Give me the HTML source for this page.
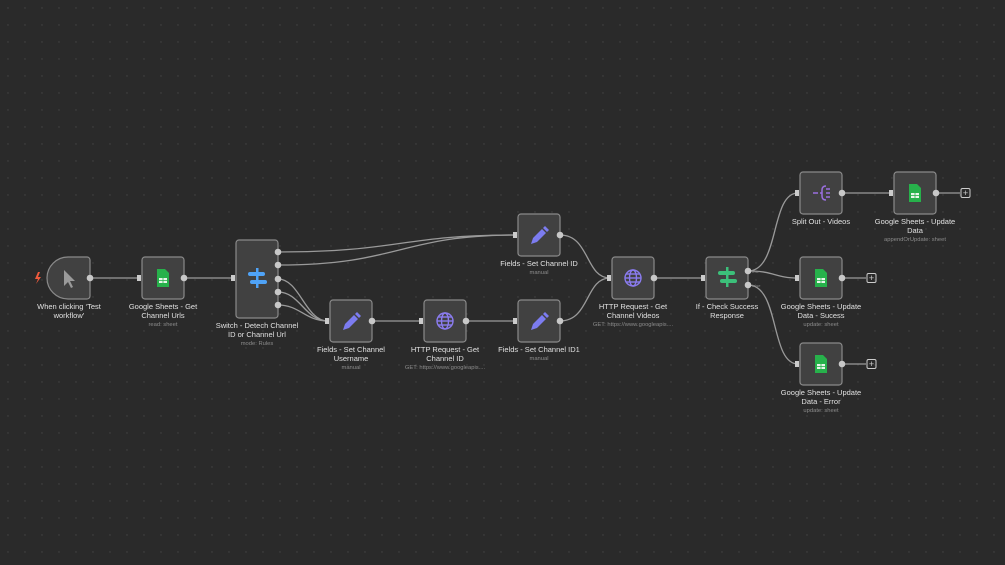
<!DOCTYPE html>
<html><head><meta charset="utf-8"><style>
html,body{margin:0;padding:0;background:#2a2a2a;}
svg{display:block;font-family:"Liberation Sans",sans-serif;}
.n{fill:#414141;stroke:#8a8a8a;stroke-width:1.2;}
.e{fill:none;stroke:#9a9a9a;stroke-width:1.3;}
.d{fill:#c8c8c8;}
.t{fill:#e0e0e0;font-size:7.5px;text-anchor:middle;}
.s{fill:#8c8c8c;font-size:5.8px;text-anchor:middle;}
</style></head><body>
<svg width="1005" height="565" viewBox="0 0 1005 565">
<defs>
<pattern id="dots" width="17" height="17" patternUnits="userSpaceOnUse"><circle cx="8" cy="8" r="0.7" fill="#444"/></pattern>
<g id="sheet"><path d="M-6,-9 h8 l4,4 v14 h-12 z" fill="#27b14b"/><rect x="-4" y="0" width="8" height="5" fill="#e8f5ea"/><line x1="0" y1="0" x2="0" y2="5" stroke="#27b14b" stroke-width="0.8"/><line x1="-4" y1="2.5" x2="4" y2="2.5" stroke="#27b14b" stroke-width="0.8"/></g>
<g id="pencil"><path d="M-8,8 l2,-6 l9,-9 l4,4 l-9,9 z" fill="#7c7cf0"/><path d="M4,-8 l2,-2 l4,4 l-2,2 z" fill="#7c7cf0"/></g>
<g id="globe" fill="none" stroke="#8b7cf0" stroke-width="1.4"><circle r="8"/><ellipse rx="3.5" ry="8"/><line x1="-8" y1="0" x2="8" y2="0"/><line x1="-7" y1="-4" x2="7" y2="-4"/><line x1="-7" y1="4" x2="7" y2="4"/></g>
<marker id="a" viewBox="0 0 6 6" refX="5" refY="3" markerWidth="6" markerHeight="6" orient="auto"><path d="M0,0 L6,3 L0,6 z" fill="#bbb"/></marker>
</defs>
<rect width="1005" height="565" fill="#2a2a2a"/>
<rect width="1005" height="565" fill="url(#dots)"/>

<!-- edges -->
<g class="e">
<path d="M90,278 H140"/>
<path d="M184,278 H234"/>
<path d="M278,252 C400,252 400,235 516,235"/>
<path d="M278,265 C400,265 400,235 516,235"/>
<path d="M278,279 C300,279 305,321 328,321"/>
<path d="M278,292 C300,292 305,321 328,321"/>
<path d="M278,305 C300,305 305,321 328,321"/>
<path d="M372,321 H422"/>
<path d="M466,321 H516"/>
<path d="M560,235 C590,235 585,278 610,278"/>
<path d="M560,321 C590,321 585,278 610,278"/>
<path d="M654,278 H704"/>
<path d="M748,271 C780,271 770,193 798,193"/>
<path d="M748,271 C775,271 775,278 798,278"/>
<path d="M748,285 C780,285 770,364 798,364"/>
<path d="M842,193 H892"/>
<path d="M936,193 H960"/>
<path d="M842,278 H866"/>
<path d="M842,364 H866"/>
</g>
<g fill="#ccc">
<rect x="137" y="275" width="4" height="6"/><rect x="231" y="275" width="4" height="6"/><rect x="325" y="318" width="4" height="6"/><rect x="419" y="318" width="4" height="6"/><rect x="513" y="318" width="4" height="6"/><rect x="513" y="232" width="4" height="6"/><rect x="607" y="275" width="4" height="6"/><rect x="701" y="275" width="4" height="6"/><rect x="795" y="190" width="4" height="6"/><rect x="889" y="190" width="4" height="6"/><rect x="795" y="275" width="4" height="6"/><rect x="795" y="361" width="4" height="6"/>
</g>
<g fill="none" stroke="#ccc" stroke-width="1"><rect x="961" y="188.5" width="9" height="9" rx="1.5"/><rect x="867" y="273.5" width="9" height="9" rx="1.5"/><rect x="867" y="359.5" width="9" height="9" rx="1.5"/></g>
<g fill="#ccc" font-size="9" text-anchor="middle" font-family="Liberation Sans"><text x="965.5" y="196">+</text><text x="871.5" y="281">+</text><text x="871.5" y="367">+</text></g>

<!-- nodes -->
<path class="n" d="M68,257 h19 a3,3 0 0 1 3,3 v36 a3,3 0 0 1 -3,3 h-19 a21,21 0 0 1 0,-42 z"/>
<rect class="n" x="142" y="257" width="42" height="42" rx="3"/>
<rect class="n" x="236" y="240" width="42" height="78" rx="3"/>
<rect class="n" x="330" y="300" width="42" height="42" rx="3"/>
<rect class="n" x="424" y="300" width="42" height="42" rx="3"/>
<rect class="n" x="518" y="300" width="42" height="42" rx="3"/>
<rect class="n" x="518" y="214" width="42" height="42" rx="3"/>
<rect class="n" x="612" y="257" width="42" height="42" rx="3"/>
<rect class="n" x="706" y="257" width="42" height="42" rx="3"/>
<rect class="n" x="800" y="172" width="42" height="42" rx="3"/>
<rect class="n" x="894" y="172" width="42" height="42" rx="3"/>
<rect class="n" x="800" y="257" width="42" height="42" rx="3"/>
<rect class="n" x="800" y="343" width="42" height="42" rx="3"/>

<!-- icons -->
<path d="M64,270 l0,16 l4,-4 l3,6 l2,-1 l-3,-6 l5,0 z" fill="#9a9a9a"/>
<path d="M38,272 l-3,7 h3 l-2,5 l5,-7 h-3 l2,-5 z" fill="#ef5a3c"/>
<use href="#sheet" x="163" y="278"/>
<use href="#sheet" x="915" y="193"/>
<use href="#sheet" x="821" y="278"/>
<use href="#sheet" x="821" y="364"/>
<g fill="#4fa3f7"><rect x="248" y="272" width="17" height="4" rx="2"/><rect x="250" y="280" width="17" height="4" rx="2"/><rect x="256" y="268" width="2.5" height="20"/></g>
<g fill="#3cc07a"><rect x="718" y="271" width="17" height="4" rx="2"/><rect x="720" y="279" width="17" height="4" rx="2"/><rect x="726" y="267" width="2.5" height="20"/></g>
<use href="#pencil" x="351" y="322"/>
<use href="#pencil" x="539" y="322"/>
<use href="#pencil" x="539" y="236"/>
<use href="#globe" x="445" y="321"/>
<use href="#globe" x="633" y="278"/>
<g fill="none" stroke="#9b6fe0" stroke-width="1.5"><path d="M813,193 h5"/><path d="M826,186 q-4,0 -4,4 v6 q0,4 4,4"/><path d="M822,193 h-2"/><path d="M826,189 h4 M826,193 h4 M826,197 h4"/></g>

<!-- port dots -->
<g class="d">
<circle cx="90" cy="278" r="3.3"/><circle cx="184" cy="278" r="3.3"/>
<circle cx="278" cy="252" r="3.3"/><circle cx="278" cy="265" r="3.3"/><circle cx="278" cy="279" r="3.3"/><circle cx="278" cy="292" r="3.3"/><circle cx="278" cy="305" r="3.3"/>
<circle cx="372" cy="321" r="3.3"/><circle cx="466" cy="321" r="3.3"/><circle cx="560" cy="321" r="3.3"/><circle cx="560" cy="235" r="3.3"/>
<circle cx="654" cy="278" r="3.3"/><circle cx="748" cy="271" r="3.3"/><circle cx="748" cy="285" r="3.3"/>
<circle cx="842" cy="193" r="3.3"/><circle cx="936" cy="193" r="3.3"/><circle cx="842" cy="278" r="3.3"/><circle cx="842" cy="364" r="3.3"/>
</g>
<g fill="#888" font-size="4px"><text x="752" y="273">true</text><text x="752" y="287">false</text></g>

<!-- labels -->
<text class="t" x="69" y="309">When clicking ‘Test</text><text class="t" x="69" y="318">workflow’</text>
<text class="t" x="163" y="309">Google Sheets - Get</text><text class="t" x="163" y="318">Channel Urls</text><text class="s" x="163" y="326">read: sheet</text>
<text class="t" x="257" y="328">Switch - Detech Channel</text><text class="t" x="257" y="337">ID or Channel Url</text><text class="s" x="257" y="345">mode: Rules</text>
<text class="t" x="351" y="352">Fields - Set Channel</text><text class="t" x="351" y="361">Username</text><text class="s" x="351" y="369">manual</text>
<text class="t" x="445" y="352">HTTP Request - Get</text><text class="t" x="445" y="361">Channel ID</text><text class="s" x="445" y="369">GET: https://www.googleapis....</text>
<text class="t" x="539" y="352">Fields - Set Channel ID1</text><text class="s" x="539" y="360">manual</text>
<text class="t" x="539" y="266">Fields - Set Channel ID</text><text class="s" x="539" y="274">manual</text>
<text class="t" x="633" y="309">HTTP Request - Get</text><text class="t" x="633" y="318">Channel Videos</text><text class="s" x="633" y="326">GET: https://www.googleapis....</text>
<text class="t" x="727" y="309">If - Check Success</text><text class="t" x="727" y="318">Response</text>
<text class="t" x="821" y="224">Split Out - Videos</text>
<text class="t" x="915" y="224">Google Sheets - Update</text><text class="t" x="915" y="233">Data</text><text class="s" x="915" y="241">appendOrUpdate: sheet</text>
<text class="t" x="821" y="309">Google Sheets - Update</text><text class="t" x="821" y="318">Data - Sucess</text><text class="s" x="821" y="326">update: sheet</text>
<text class="t" x="821" y="395">Google Sheets - Update</text><text class="t" x="821" y="404">Data - Error</text><text class="s" x="821" y="412">update: sheet</text>
</svg>
</body></html>
